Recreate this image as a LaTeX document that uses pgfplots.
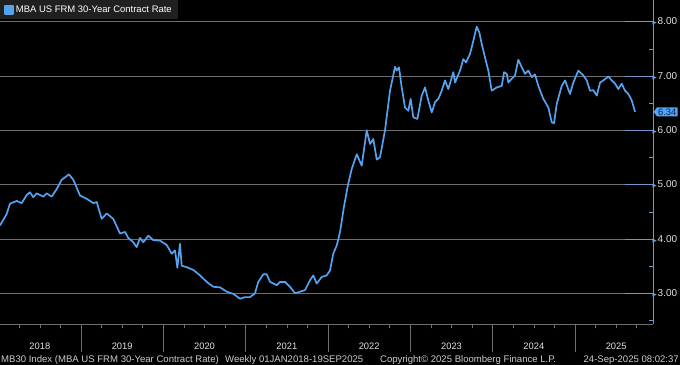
\documentclass[border=0pt]{standalone}
\usepackage{fontspec}
\setmainfont{Liberation Sans}
\newfontfamily\symfont{DejaVu Sans}
\usepackage{pgfplots}
\pgfplotsset{compat=1.18}
\usetikzlibrary{shapes.symbols}
\definecolor{lineblue}{RGB}{84,162,240}
\definecolor{gridgray}{RGB}{110,110,110}
\definecolor{axisgray}{RGB}{115,150,205}
\definecolor{textgray}{RGB}{225,225,225}
\definecolor{footgray}{RGB}{205,205,205}
\definecolor{legendbg}{RGB}{32,32,32}
\definecolor{arrowblue}{RGB}{110,160,225}
\definecolor{tagfill}{RGB}{80,165,250}
\definecolor{tagtext}{RGB}{15,35,75}
\begin{document}
\begin{tikzpicture}
\useasboundingbox (0,0) rectangle (680bp,365bp);
\fill[black] (0,0) rectangle (680bp,365bp);
\begin{axis}[
  at={(0,41bp)}, anchor=south west,
  scale only axis, width=653bp, height=324bp,
  xmin=2018.016, xmax=2025.947,
  ymin=2.435, ymax=8.40,
  axis x line*=bottom, axis y line*=right,
  x axis line style={draw=gridgray, line width=0.6bp, -},
  y axis line style={draw=axisgray, line width=0.7bp, -},
  xtick={2019,2020,2021,2022,2023,2024,2025},
  xticklabels={},
  minor xtick={2018.25,2018.5,2018.75,2019.25,2019.5,2019.75,2020.25,2020.5,2020.75,2021.25,2021.5,2021.75,2022.25,2022.5,2022.75,2023.25,2023.5,2023.75,2024.25,2024.5,2024.75,2025.25,2025.5,2025.75},
  tick align=outside,
  x tick style={draw=gridgray, line width=0.6bp},
  major tick length=28bp, minor tick length=4bp,
  extra x ticks={2018.5,2019.5,2020.5,2021.5,2022.5,2023.5,2024.5,2025.5},
  extra x tick labels={2018,2019,2020,2021,2022,2023,2024,2025},
  extra x tick style={major tick length=0pt, grid=none,
    xticklabel style={anchor=north, yshift=-15bp, font=\fontsize{9.4}{11}\selectfont}},
  ytick={3,4,5,6,7,8},
  yticklabel={\textcolor{arrowblue}{\symfont\fontsize{5.5}{6}\selectfont ▶}\hspace{0.8bp}\pgfmathprintnumber[fixed,fixed zerofill,precision=2]{\tick}},
  yticklabel style={anchor=west, inner sep=0pt, xshift=-0.5bp, font=\fontsize{10}{12}\selectfont},
  y tick style={draw=axisgray, line width=0.6bp},
  minor ytick={2.5,3.5,4.5,5.5,6.5,7.5},
  ytick align=inside,
  ymajorgrids,
  grid style={draw=gridgray, line width=0.6bp},
  tick label style={text=textgray},
  /pgf/number format/assume math mode=true,
  clip=false,
  legend style={at={(0,1)}, anchor=north west, fill=legendbg, draw=none,
    text=white, font=\fontsize{9.5}{11}\selectfont,
    inner xsep=4bp, inner ysep=3.5bp},
  legend image code/.code={\fill[lineblue] (0bp,-4bp) rectangle (8bp,4bp);},
]
\addplot[color=lineblue, line width=1.7bp, line join=round] coordinates {
(2018.016,4.25) (2018.097,4.46) (2018.137,4.65) (2018.219,4.70) (2018.280,4.66)
(2018.340,4.81) (2018.380,4.86) (2018.420,4.77) (2018.462,4.84) (2018.542,4.78)
(2018.583,4.84) (2018.644,4.78) (2018.705,4.92) (2018.765,5.09) (2018.854,5.19)
(2018.906,5.09) (2018.988,4.80) (2019.069,4.74) (2019.149,4.66) (2019.191,4.68)
(2019.251,4.37) (2019.312,4.47) (2019.392,4.37) (2019.474,4.10) (2019.534,4.13)
(2019.574,4.02) (2019.635,3.94) (2019.676,3.85) (2019.716,4.02) (2019.757,3.94)
(2019.817,4.06) (2019.878,3.98) (2019.959,3.97) (2020.041,3.89) (2020.101,3.73)
(2020.142,3.79) (2020.170,3.47) (2020.202,3.91) (2020.223,3.51) (2020.284,3.48)
(2020.364,3.43) (2020.445,3.33) (2020.527,3.21) (2020.607,3.12) (2020.688,3.11)
(2020.770,3.03) (2020.850,2.99) (2020.931,2.90) (2020.992,2.93) (2021.053,2.93)
(2021.113,3.00) (2021.153,3.21) (2021.214,3.35) (2021.255,3.35) (2021.296,3.21)
(2021.377,3.15) (2021.417,3.21) (2021.478,3.21) (2021.538,3.12) (2021.599,3.00)
(2021.660,3.03) (2021.721,3.06) (2021.781,3.24) (2021.821,3.33) (2021.863,3.18)
(2021.923,3.30) (2021.984,3.33) (2022.024,3.42) (2022.064,3.73) (2022.106,3.88)
(2022.146,4.13) (2022.194,4.60) (2022.243,5.00)
(2022.288,5.29) (2022.349,5.56) (2022.409,5.35) (2022.470,6.00) (2022.510,5.75)
(2022.550,5.84) (2022.592,5.46) (2022.632,5.51) (2022.692,6.00) (2022.753,6.73)
(2022.814,7.17) (2022.834,7.10) (2022.862,7.16) (2022.895,6.79) (2022.935,6.42)
(2022.975,6.36) (2023.004,6.58) (2023.036,6.24) (2023.085,6.21) (2023.138,6.64)
(2023.178,6.79) (2023.218,6.55) (2023.260,6.33) (2023.300,6.52) (2023.340,6.58)
(2023.381,6.73) (2023.421,6.92) (2023.461,6.76) (2023.522,7.07) (2023.543,6.88)
(2023.603,7.10) (2023.643,7.31) (2023.676,7.25) (2023.725,7.41) (2023.765,7.65)
(2023.806,7.91) (2023.838,7.80) (2023.867,7.59) (2023.907,7.34) (2023.947,7.10)
(2023.988,6.73) (2024.049,6.79) (2024.110,6.82) (2024.138,7.07) (2024.171,7.04)
(2024.190,6.88) (2024.231,6.95) (2024.271,7.01) (2024.311,7.30) (2024.353,7.16)
(2024.393,7.04) (2024.433,7.10) (2024.474,6.98) (2024.514,7.03) (2024.554,6.82)
(2024.615,6.58) (2024.676,6.42) (2024.717,6.15) (2024.745,6.13) (2024.778,6.49)
(2024.839,6.82) (2024.879,6.92) (2024.939,6.67) (2024.979,6.88) (2025.040,7.10)
(2025.101,7.01) (2025.142,6.92) (2025.182,6.73) (2025.222,6.74) (2025.264,6.64)
(2025.304,6.88) (2025.344,6.92) (2025.405,6.99) (2025.446,6.92) (2025.486,6.86)
(2025.526,6.76) (2025.567,6.86) (2025.607,6.73) (2025.648,6.67) (2025.689,6.55)
(2025.729,6.34)
};
\addlegendentry{MBA US FRM 30-Year Contract Rate}
\node[signal, signal to=west, signal pointer angle=110, fill=tagfill, text=tagtext,
  inner ysep=1.2bp, inner xsep=1.2bp, anchor=west, font=\fontsize{9.4}{11}\selectfont]
  at (axis cs:2025.947,6.34) [xshift=0.5bp] {6.34};
\end{axis}
\node[anchor=base west, text=footgray, font=\fontsize{9.6}{11}\selectfont, inner sep=0pt] at (1bp,3bp) {MB30 Index (MBA US FRM 30-Year Contract Rate)};
\node[anchor=base west, text=footgray, font=\fontsize{9.6}{11}\selectfont, inner sep=0pt] at (225bp,3bp) {Weekly 01JAN2018-19SEP2025};
\node[anchor=base west, text=footgray, font=\fontsize{9.6}{11}\selectfont, inner sep=0pt] at (380bp,3bp) {Copyright© 2025 Bloomberg Finance L.P.};
\node[anchor=base east, text=footgray, font=\fontsize{9.6}{11}\selectfont, inner sep=0pt] at (679bp,3bp) {24-Sep-2025 08:02:37};
\end{tikzpicture}
\end{document}
